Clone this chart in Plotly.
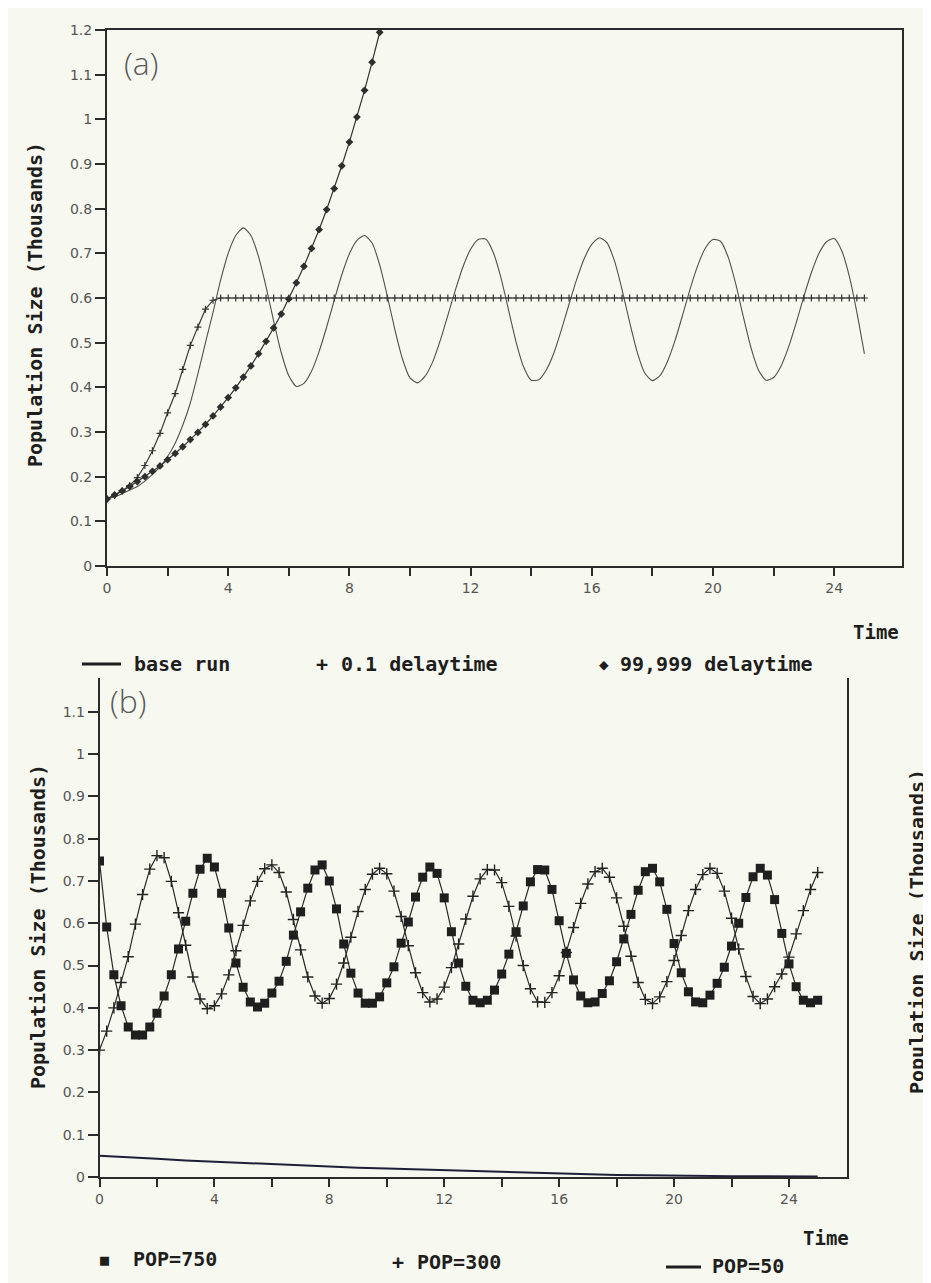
import plotly.graph_objects as go

# The page body has an 8 px margin, so the figure is drawn 8 px smaller
# and every reference pixel position is shifted by 8 px.
OFF = 8
W, H = 931 - OFF, 1283 - OFF

# ---------------- Panel (a) data ----------------
t_quarter = [i / 4 for i in range(101)]

base_run = [0.150, 0.155, 0.162, 0.170, 0.178, 0.190, 0.205, 0.222, 0.245, 0.275,
            0.315, 0.365, 0.430, 0.500, 0.568, 0.640, 0.700, 0.740, 0.757, 0.740,
            0.693, 0.625, 0.549, 0.478, 0.426, 0.402, 0.409, 0.436, 0.480, 0.535,
            0.595, 0.652, 0.699, 0.729, 0.740, 0.723, 0.674, 0.605, 0.530, 0.464,
            0.421, 0.410, 0.425, 0.457, 0.505, 0.561, 0.618, 0.670, 0.709, 0.731,
            0.732, 0.702, 0.646, 0.574, 0.502, 0.446, 0.416, 0.417, 0.439, 0.477,
            0.529, 0.586, 0.641, 0.688, 0.720, 0.735, 0.724, 0.683, 0.619, 0.546,
            0.479, 0.432, 0.415, 0.426, 0.458, 0.505, 0.562, 0.621, 0.673, 0.712,
            0.731, 0.727, 0.692, 0.632, 0.559, 0.490, 0.439, 0.416, 0.422, 0.448,
            0.491, 0.545, 0.603, 0.657, 0.700, 0.726, 0.733, 0.706, 0.649, 0.568,
            0.475]

delay_01 = [0.150, 0.158, 0.168, 0.180, 0.198, 0.225, 0.258, 0.297, 0.343, 0.386,
            0.440, 0.494, 0.535, 0.575, 0.595, 0.600] + [0.600] * 85

t_exp = [i / 4 for i in range(37)]
delay_99999 = [0.150, 0.159, 0.168, 0.178, 0.189, 0.200, 0.212, 0.224, 0.238, 0.252,
               0.267, 0.283, 0.299, 0.317, 0.336, 0.356, 0.377, 0.399, 0.423, 0.448,
               0.475, 0.503, 0.533, 0.564, 0.598, 0.634, 0.671, 0.711, 0.753, 0.798,
               0.845, 0.896, 0.949, 1.005, 1.065, 1.128, 1.195]

# ---------------- Panel (b) data ----------------
pop750 = [0.747, 0.591, 0.478, 0.405, 0.355, 0.336, 0.336, 0.355, 0.387, 0.428,
          0.478, 0.539, 0.605, 0.671, 0.728, 0.754, 0.733, 0.671, 0.589, 0.506,
          0.449, 0.414, 0.402, 0.411, 0.435, 0.463, 0.510, 0.572, 0.627, 0.683,
          0.726, 0.738, 0.700, 0.634, 0.551, 0.482, 0.435, 0.411, 0.411, 0.426,
          0.459, 0.497, 0.553, 0.603, 0.662, 0.709, 0.733, 0.718, 0.660, 0.580,
          0.506, 0.451, 0.418, 0.412, 0.418, 0.442, 0.480, 0.527, 0.580, 0.641,
          0.698, 0.727, 0.726, 0.680, 0.606, 0.529, 0.466, 0.428, 0.412, 0.414,
          0.434, 0.464, 0.509, 0.563, 0.621, 0.678, 0.722, 0.730, 0.698, 0.633,
          0.552, 0.483, 0.438, 0.414, 0.412, 0.430, 0.458, 0.496, 0.546, 0.600,
          0.661, 0.710, 0.730, 0.714, 0.656, 0.576, 0.504, 0.450, 0.418, 0.412,
          0.418]

pop300 = [0.300, 0.345, 0.400, 0.460, 0.521, 0.598, 0.668, 0.728, 0.760, 0.755,
          0.699, 0.625, 0.548, 0.473, 0.421, 0.398, 0.405, 0.433, 0.478, 0.535,
          0.595, 0.653, 0.699, 0.729, 0.738, 0.720, 0.674, 0.609, 0.537, 0.473,
          0.428, 0.411, 0.422, 0.456, 0.506, 0.567, 0.628, 0.680, 0.716, 0.730,
          0.717, 0.676, 0.616, 0.547, 0.483, 0.436, 0.414, 0.421, 0.449, 0.495,
          0.551, 0.610, 0.664, 0.705, 0.727, 0.726, 0.696, 0.640, 0.570, 0.500,
          0.445, 0.414, 0.413, 0.436, 0.476, 0.531, 0.590, 0.647, 0.693, 0.722,
          0.730, 0.709, 0.660, 0.593, 0.522, 0.460, 0.420, 0.410, 0.426, 0.462,
          0.512, 0.571, 0.630, 0.680, 0.715, 0.730, 0.718, 0.676, 0.612, 0.539,
          0.474, 0.427, 0.410, 0.421, 0.450, 0.480, 0.520, 0.575, 0.630, 0.680,
          0.720]

t_unit = list(range(26))
pop50 = [0.050, 0.047, 0.043, 0.039, 0.036, 0.033, 0.030, 0.027, 0.025, 0.022,
         0.020, 0.018, 0.016, 0.014, 0.012, 0.011, 0.009, 0.007, 0.005, 0.004,
         0.003, 0.003, 0.002, 0.002, 0.001, 0.001]

x_tickvals = [0, 2, 4, 6, 8, 10, 12, 14, 16, 18, 20, 22, 24]
x_ticktext = ["0", "", "4", "", "8", "", "12", "", "16", "", "20", "", "24"]
ya_tickvals = [0, 0.1, 0.2, 0.3, 0.4, 0.5, 0.6, 0.7, 0.8, 0.9, 1.0, 1.1, 1.2]
ya_ticktext = ["0", "0.1", "0.2", "0.3", "0.4", "0.5", "0.6", "0.7", "0.8", "0.9", "1", "1.1", "1.2"]
yb_tickvals = ya_tickvals[:-1]
yb_ticktext = ya_ticktext[:-1]

legend_a = ["base run", "0.1 delaytime", "99,999 delaytime"]
legend_b = ["POP=750", "POP=300", "POP=50"]
y_title = "Population Size (Thousands)"

# ---------------- styling helpers ----------------
BG = "#f7f8ef"
INK = "#2b2b2b"
TICKFONT = dict(family="DejaVu Sans", size=14, color="#555555")
BOLD = dict(family="DejaVu Sans Mono", size=20, color="#1e1e1e", weight="bold")


def px(x):
    return (x - OFF) / W


def py(y):
    return 1 - (y - OFF) / H


fig = go.Figure()

# Panel (a)
fig.add_trace(go.Scatter(x=t_quarter, y=base_run, mode="lines", name=legend_a[0],
                         line=dict(color="#505050", width=1.1, shape="spline", smoothing=0.6),
                         xaxis="x", yaxis="y"))
fig.add_trace(go.Scatter(x=t_quarter, y=delay_01, mode="lines+markers", name=legend_a[1],
                         line=dict(color="#3a3a3a", width=1.2),
                         marker=dict(symbol="cross-thin", size=5,
                                     line=dict(color="#333333", width=1.2)),
                         xaxis="x", yaxis="y"))
fig.add_trace(go.Scatter(x=t_exp, y=delay_99999, mode="lines+markers", name=legend_a[2],
                         line=dict(color="#333333", width=1.2),
                         marker=dict(symbol="diamond", size=6, color="#2e2e2e"),
                         xaxis="x", yaxis="y"))

# Panel (b)
fig.add_trace(go.Scatter(x=t_quarter, y=pop750, mode="lines+markers", name=legend_b[0],
                         line=dict(color="#2a2a2a", width=1.2),
                         marker=dict(symbol="square", size=9, color="#1f1f1f"),
                         xaxis="x2", yaxis="y2"))
fig.add_trace(go.Scatter(x=t_quarter, y=pop300, mode="lines+markers", name=legend_b[1],
                         line=dict(color="#2a2a2a", width=1.2),
                         marker=dict(symbol="cross-thin", size=8,
                                     line=dict(color="#222222", width=1.4)),
                         xaxis="x2", yaxis="y2"))
fig.add_trace(go.Scatter(x=t_unit, y=pop50, mode="lines", name=legend_b[2],
                         line=dict(color="#1f1f3a", width=2),
                         xaxis="x2", yaxis="y2"))

common_x = dict(showgrid=False, zeroline=False, showline=True, linecolor=INK,
                ticks="outside", ticklen=8, tickwidth=1.5, tickcolor=INK,
                tickvals=x_tickvals, ticktext=x_ticktext, tickfont=TICKFONT,
                automargin=False, fixedrange=True)
common_y = dict(showgrid=False, zeroline=False, showline=True, linecolor=INK,
                ticks="outside", ticklen=10, tickwidth=1.5, tickcolor=INK,
                tickfont=TICKFONT, automargin=False, fixedrange=True)

fig.update_layout(
    width=W, height=H, autosize=False,
    margin=dict(l=0, r=0, t=0, b=0),
    paper_bgcolor=BG, plot_bgcolor=BG,
    showlegend=False,
    xaxis=dict(common_x, domain=[px(107), px(902)], range=[0, 26.24], anchor="y",
               linewidth=2, mirror=True),
    yaxis=dict(common_y, domain=[py(566), py(30)], range=[0, 1.2], anchor="x",
               tickvals=ya_tickvals, ticktext=ya_ticktext, linewidth=2, mirror=True),
    xaxis2=dict(common_x, domain=[px(99.5), px(847)], range=[0, 26.02], anchor="y2",
                linewidth=2),
    yaxis2=dict(common_y, domain=[py(1177), py(678)], range=[0, 1.18], anchor="x2",
                tickvals=yb_tickvals, ticktext=yb_ticktext, linewidth=1.6, mirror=True),
)

ann = []


def text(x, y, s, font, xanchor="center", yanchor="middle", angle=0):
    ann.append(dict(x=px(x), y=py(y), xref="paper", yref="paper", text=s,
                    showarrow=False, font=font, xanchor=xanchor, yanchor=yanchor,
                    textangle=angle))


LABEL_FONT = dict(family="Open Sans", size=32, color="#5a5a5a", weight=300)
text(141, 62, "(a)", LABEL_FONT)
text(128, 700, "(b)", LABEL_FONT)

text(35, 305, y_title, BOLD, angle=-90)
text(38, 927, y_title, BOLD, angle=-90)
text(917, 932, y_title, BOLD, angle=-90)

TIME_FONT = dict(BOLD, size=19)
text(876, 632, "Time", TIME_FONT)
text(826, 1238, "Time", TIME_FONT)

# legend row (a)
text(132, 664, legend_a[0], BOLD, xanchor="left")
text(322, 664, "+", BOLD)
text(339, 664, legend_a[1], BOLD, xanchor="left")
text(604, 664, "◆", dict(BOLD, size=16))
text(618, 664, legend_a[2], BOLD, xanchor="left")

# legend row (b)
text(104, 1260, "■", dict(BOLD, size=15))
text(131, 1259, legend_b[0], BOLD, xanchor="left")
text(398, 1262, "+", BOLD)
text(415, 1262, legend_b[1], BOLD, xanchor="left")
text(710, 1266, legend_b[2], BOLD, xanchor="left")

fig.update_layout(annotations=ann)

fig.update_layout(shapes=[
    dict(type="line", xref="paper", yref="paper", x0=px(82), x1=px(121),
         y0=py(664), y1=py(664), line=dict(color="#1e1e1e", width=3)),
    dict(type="line", xref="paper", yref="paper", x0=px(666), x1=px(701),
         y0=py(1267), y1=py(1267), line=dict(color="#1e1e1e", width=3)),
])

fig.write_html("out.html")
